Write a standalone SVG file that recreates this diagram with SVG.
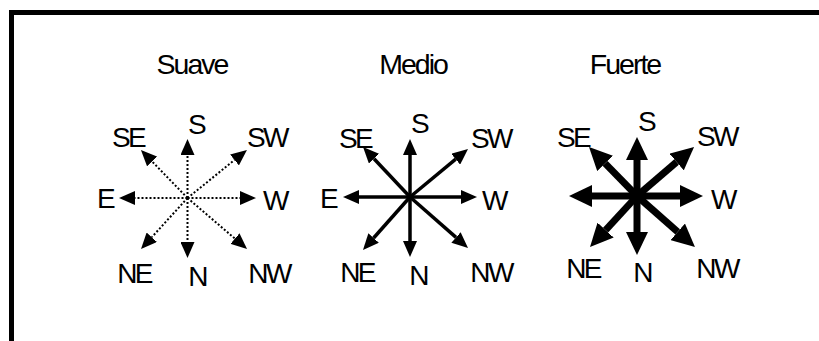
<svg xmlns="http://www.w3.org/2000/svg" width="819" height="341" viewBox="0 0 819 341">
<style>
text{font-family:"Liberation Sans",Arial,sans-serif;fill:#000;text-anchor:middle}
.t{font-size:28.5px;letter-spacing:-2px}
.l{font-size:28px;letter-spacing:-2.6px}
.d{stroke:#000;stroke-width:2;stroke-dasharray:2 2;fill:none}
.m{stroke:#000;stroke-width:3.5;fill:none}
.f{stroke:#000;stroke-width:7;fill:none}
.d line{marker-end:url(#hs)}
.m line{marker-end:url(#hm)}
.f line{marker-end:url(#hf)}
</style>
<defs>
<marker id="hs" markerUnits="userSpaceOnUse" markerWidth="16" markerHeight="14" viewBox="0 0 16 14" refX="0" refY="7" orient="auto"><path d="M0,0 L16,7 L0,14 z" fill="#000"/></marker>
<marker id="hm" markerUnits="userSpaceOnUse" markerWidth="16" markerHeight="14" viewBox="0 0 16 14" refX="0" refY="7" orient="auto"><path d="M0,0 L16,7 L0,14 z" fill="#000"/></marker>
<marker id="hf" markerUnits="userSpaceOnUse" markerWidth="23" markerHeight="22" viewBox="0 0 23 22" refX="0" refY="11" orient="auto"><path d="M0,0 L23,11 L0,22 z" fill="#000"/></marker>
</defs>
<rect width="819" height="341" fill="#fff"/>
<path d="M11.5,341 V12.5 H819" fill="none" stroke="#000" stroke-width="5"/>

<g id="suave">
<text class="t" x="192" y="74">Suave</text>
<g id="suave-arrows" class="d">
<line x1="187.5" y1="198" x2="187.5" y2="155"/>
<line x1="187.5" y1="198" x2="187.5" y2="242"/>
<line x1="187.5" y1="198" x2="135" y2="198"/>
<line x1="187.5" y1="198" x2="240" y2="198"/>
<line x1="187.5" y1="198" x2="152.1" y2="161.5"/>
<line x1="187.5" y1="198" x2="234.5" y2="160"/>
<line x1="187.5" y1="198" x2="151.8" y2="237.2"/>
<line x1="187.5" y1="198" x2="234.9" y2="238.6"/>
</g>
<text class="l" x="196" y="134">S</text>
<text class="l" x="128" y="147">SE</text>
<text class="l" x="267" y="147">SW</text>
<text class="l" x="105" y="208">E</text>
<text class="l" x="275" y="210">W</text>
<text class="l" x="134" y="283">NE</text>
<text class="l" x="197" y="286">N</text>
<text class="l" x="269" y="283">NW</text>
</g>

<g id="medio">
<text class="t" x="413" y="74">Medio</text>
<g id="medio-arrows" class="m">
<line x1="410" y1="197" x2="410" y2="155"/>
<line x1="410" y1="197" x2="410" y2="241"/>
<line x1="410" y1="197" x2="359" y2="197"/>
<line x1="410" y1="197" x2="461" y2="197"/>
<line x1="410" y1="197" x2="374" y2="158.7"/>
<line x1="410" y1="197" x2="455.7" y2="159.2"/>
<line x1="410" y1="197" x2="373.6" y2="238"/>
<line x1="410" y1="197" x2="456" y2="237.4"/>
</g>
<text class="l" x="419" y="133">S</text>
<text class="l" x="355" y="148">SE</text>
<text class="l" x="491" y="148">SW</text>
<text class="l" x="328" y="208">E</text>
<text class="l" x="494" y="210">W</text>
<text class="l" x="357" y="282">NE</text>
<text class="l" x="418" y="285">N</text>
<text class="l" x="491" y="282">NW</text>
</g>

<g id="fuerte">
<text class="t" x="625" y="74">Fuerte</text>
<g id="fuerte-arrows" class="f">
<line x1="637" y1="196" x2="637" y2="160"/>
<line x1="637" y1="196" x2="637" y2="232"/>
<line x1="637" y1="196" x2="592" y2="196"/>
<line x1="637" y1="196" x2="680" y2="196"/>
<line x1="637" y1="196" x2="605.1" y2="163.4"/>
<line x1="637" y1="196" x2="676.6" y2="162"/>
<line x1="637" y1="196" x2="605.6" y2="230.1"/>
<line x1="637" y1="196" x2="677.7" y2="231.8"/>
</g>
<text class="l" x="646" y="131">S</text>
<text class="l" x="573" y="147">SE</text>
<text class="l" x="717" y="146">SW</text>
<text class="l" x="723" y="209">W</text>
<text class="l" x="583" y="278">NE</text>
<text class="l" x="642" y="282">N</text>
<text class="l" x="717" y="278">NW</text>
</g>
</svg>
